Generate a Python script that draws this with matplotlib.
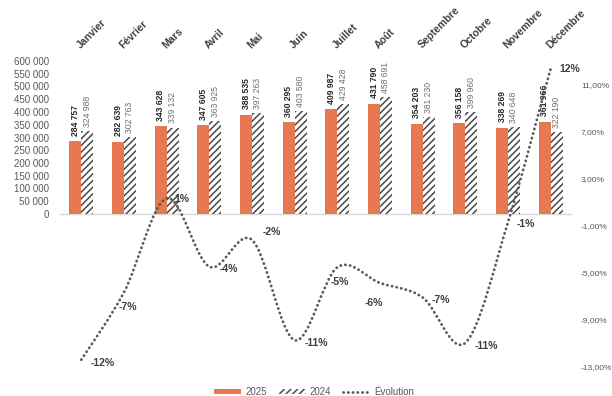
import matplotlib
matplotlib.use("Agg")
import matplotlib.pyplot as plt
import matplotlib.transforms as mtransforms
from matplotlib.path import Path
from matplotlib.patches import PathPatch, Patch
from matplotlib.lines import Line2D
import numpy as np

months = ['Janvier', 'Février', 'Mars', 'Avril', 'Mai', 'Juin', 'Juillet',
          'Août', 'Septembre', 'Octobre', 'Novembre', 'Décembre']
v2025 = [284757, 282639, 343628, 347605, 388535, 360295, 409987, 431790,
         354203, 356158, 338269, 361966]
v2024 = [324988, 302763, 339132, 363925, 397263, 403580, 429428, 458691,
         381230, 399960, 340648, 322190]
evol = [-12.38, -6.65, 1.33, -4.48, -2.20, -10.73, -4.53, -5.86,
        -7.09, -10.95, -0.70, 12.35]

# label offsets in pixels (dx to label left edge, dy downward)
lab_off = [(9, 3), (-5, 15), (8, 1), (10, 2), (11, -8), (10, 3), (-7, 15),
           (-15, 20), (9, 3), (9, 3), (9, 2), (9, 0)]

ORANGE = '#E8784F'
HATCHC = '#4a4a4a'
LINEC = '#5a5a5a'
TICKC = '#595959'

plt.rcParams['font.family'] = ['Liberation Sans', 'DejaVu Sans']
plt.rcParams['hatch.linewidth'] = 1.1

fig = plt.figure(figsize=(6.12, 3.96), dpi=100)
ax = fig.add_axes([60/612, (396-367)/396, 512/612, 306/396])
ax2 = ax.twinx()

x = np.arange(len(months))
w = 0.28
ax.bar(x - w/2, v2025, width=w, color=ORANGE, linewidth=0, zorder=2)
ax.bar(x + w/2, v2024, width=w, facecolor='white', edgecolor=HATCHC,
       hatch='/////', linewidth=0, zorder=2)

ax.set_xlim(-0.5, len(months) - 0.5)
ax.set_ylim(-600000, 600000)
ax.set_yticks(np.arange(0, 600001, 50000))
ax.set_yticklabels([f"{v:,}".replace(',', ' ') for v in range(0, 600001, 50000)])
ax.tick_params(axis='y', length=0, pad=8, labelsize=7, labelcolor=TICKC)
ax.set_xticks([])
for s in ax.spines.values():
    s.set_visible(False)
ax.axhline(0, color='#d9d9d9', linewidth=1, zorder=1)

# bar value labels
for i in range(len(months)):
    ax.annotate(f"{v2025[i]:,}".replace(',', ' '), (x[i] - w/2, v2025[i]),
                xytext=(0, 4), textcoords='offset points', rotation=90,
                ha='center', va='bottom', fontsize=6.2, fontweight='bold',
                color='#262626', zorder=3)
    ax.annotate(f"{v2024[i]:,}".replace(',', ' '), (x[i] + w/2, v2024[i]),
                xytext=(0, 3), textcoords='offset points', rotation=90,
                ha='center', va='bottom', fontsize=6.2, color='#6f6f6f',
                zorder=3)

# month labels on top
trans = mtransforms.blended_transform_factory(ax.transData, ax.transAxes)
for i, m in enumerate(months):
    ax.text(x[i] - 0.02, 1 + 12/306, m, transform=trans, rotation=45,
            rotation_mode='anchor', ha='left', va='baseline', fontsize=7.5,
            fontweight='bold', color='#404040')

# secondary axis
ax2.set_ylim(-13, 13)
ax2.set_yticks(np.arange(-13, 12, 4))
ax2.set_yticklabels([f"{t:.2f}".replace('.', ',') + '%' for t in np.arange(-13, 12, 4)])
ax2.tick_params(axis='y', length=0, pad=6.5, labelsize=6, labelcolor=TICKC)
for s in ax2.spines.values():
    s.set_visible(False)

# smoothed line (Catmull-Rom as cubic Bezier)
pts = np.column_stack([x, evol]).astype(float)
verts = [tuple(pts[0])]
codes = [Path.MOVETO]
n = len(pts)
for i in range(n - 1):
    p0 = pts[i - 1] if i > 0 else pts[i]
    p1 = pts[i]
    p2 = pts[i + 1]
    p3 = pts[i + 2] if i + 2 < n else pts[i + 1]
    c1 = p1 + (p2 - p0) / 6
    c2 = p2 - (p3 - p1) / 6
    verts += [tuple(c1), tuple(c2), tuple(p2)]
    codes += [Path.CURVE4] * 3
dotstyle = (0, (0.1, 1.6))
patch = PathPatch(Path(verts, codes), facecolor='none', edgecolor=LINEC,
                  linewidth=2.0, linestyle=dotstyle, capstyle='round', zorder=4)
ax2.add_patch(patch)

for i in range(n):
    dx, dy = lab_off[i]
    ax2.annotate(f"{round(evol[i]):.0f}%", (x[i], evol[i]),
                 xytext=(dx * 0.72, -dy * 0.72), textcoords='offset points',
                 ha='left', va='center', fontsize=7.5, fontweight='bold',
                 color='#404040', zorder=5)

handles = [Patch(facecolor=ORANGE, linewidth=0),
           Patch(facecolor='white', edgecolor=HATCHC, hatch='/////', linewidth=0),
           Line2D([0], [0], color=LINEC, linewidth=2.0, linestyle=dotstyle,
                  dash_capstyle='round')]
leg = fig.legend(handles, ['2025', '2024', 'Évolution'], loc='center',
                 bbox_to_anchor=(314/612, 1 - 392/396), ncol=3, frameon=False,
                 fontsize=7, labelcolor=TICKC, handlelength=2.8, handleheight=0.5,
                 columnspacing=1.2, handletextpad=0.4)

fig.savefig('out.png', dpi=100)
